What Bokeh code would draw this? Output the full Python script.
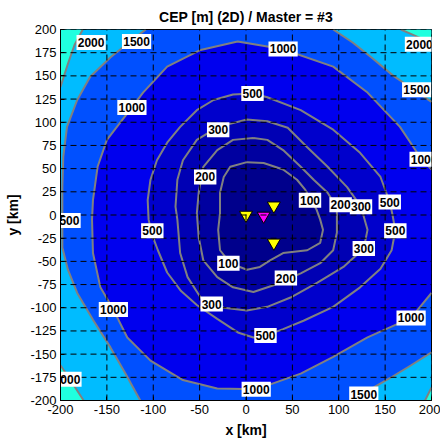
from bokeh.plotting import figure
from bokeh.models import Range1d, ColumnDataSource, CustomJSTickFormatter
from bokeh.core.properties import value
from bokeh.embed import file_html
from bokeh.resources import INLINE

TITLE = "CEP [m] (2D) / Master = #3"
XMIN, XMAX, YMIN, YMAX = -200, 200, -200, 200
X_TICKS = list(range(-200, 201, 50))
Y_TICKS = list(range(-200, 201, 25))

# contour level paths (km)
C100_X = [1, -17, -24, -28, -28, -30, -28, -17, 1, 15, 26, 40, 66, 80, 83, 80, 76, 70, 64, 55, 40, 19]
C100_Y = [57, 52, 41, 24, 2, -16, -38, -52, -59, -56, -49, -41, -38, -30, -16, -5, 6, 16, 27, 38, 49, 56]

C200_X = [8, -14, -31, -46, -51, -53, -51, -46, -31, -14, 8, 29, 59, 80, 94, 98, 98, 98, 88, 73, 59, 40, 23]
C200_Y = [83, 81, 70, 52, 24, 2, -24, -49, -67, -78, -83, -76, -63, -52, -38, -19, -5, 8, 24, 38, 52, 70, 81]

C300_X = [1, -30, -53, -68, -74, -76, -74, -71, -63, -49, -24, 1, 23, 48, 77, 105, 127, 131, 124, 109, 88, 66, 45, 23]
C300_Y = [103, 95, 81, 59, 38, 9, -5, -41, -67, -89, -100, -103, -99, -89, -73, -56, -36, -16, 9, 30, 52, 73, 94, 101]

C500_X = [7, -14, -35, -53, -71, -85, -96, -103, -106, -105, -101, -95, -85, -70, -53, -31, -8, 8, 21, 40, 62, 94, 123, 145, 157, 161, 158, 155, 145, 123, 94, 59, 23]
C500_Y = [131, 130, 124, 113, 95, 78, 59, 38, 16, -5, -22, -38, -62, -82, -97, -112, -127, -132, -130, -123, -114, -99, -78, -58, -38, -17, 0, 14, 41, 67, 92, 113, 127]

C1000_X = [200, 188, 166, 131, 94, 39, -9, -49, -85, -111, -123, -150, -160, -165, -166, -165, -157, -143, -128, -103, -68, -31, 11, 59, 94, 131, 178, 200]
C1000_Y = [49, 62, 95, 132, 160, 179, 187, 178, 160, 132, 116, 81, 52, 16, -5, -41, -78, -102, -132, -157, -178, -187, -188, -171, -153, -132, -111, -84]

C1500_L_X = [-108, -125, -146, -168, -182, -193, -197, -198, -198, -198, -192, -182, -165, -146, -130, -114]
C1500_L_Y = [200, 187, 170, 149, 124, 95, 63, 30, -5, -35, -59, -84, -113, -143, -171, -200]
C1500_TR_X = [94, 115, 135, 159, 184, 200]
C1500_TR_Y = [200, 186, 170, 150, 133, 122]
C1500_BR_X = [200, 178, 155, 127, 113]
C1500_BR_Y = [-148, -162, -176, -192, -200]

C2000_TL_X = [-176, -185, -192, -200]
C2000_TL_Y = [200, 183, 163, 138]
C2000_TR_X = [167, 185, 200]
C2000_TR_Y = [200, 192, 186]
C2000_BL_X = [-200, -188, -175]
C2000_BL_Y = [-162, -180, -200]
C2000_BR_X = [200, 193]
C2000_BR_Y = [-186, -200]

# contour labels
LBL_TEXT = ["2000", "1500", "1000", "2000", "500", "1500", "1000", "300", "1000", "200", "100",
            "200", "300", "500", "1500", "500", "500", "100", "300", "200", "1000", "300",
            "1000", "500", "2000", "1000", "1500"]
LBL_X = [-167, -118, 40, 187, 7, 184, -123, -30, 192, -44, 69, 102, 124, 155, -194, -101, 161,
         -19, 127, 43, -143, -37, 178, 21, -193, 11, 127]
LBL_Y = [186, 187, 179, 184, 131, 135, 116, 92, 60, 41, 16, 11, 9, 14, -6, -17, -17, -52, -36,
         -68, -102, -96, -111, -130, -177, -188, -193]

# stations
SLAVE_X = [0, 30, 30]
SLAVE_Y = [0, 10, -30]
MASTER_X = [19]
MASTER_Y = [-1]

COL_LT100 = "#00008C"
COL_100 = "#0000A0"
COL_200 = "#0000B4"
COL_300 = "#0000CC"
COL_500 = "#0000EE"
COL_1000 = "#0050FF"
COL_1500 = "#00BCFF"
COL_2000 = "#20FFDF"
LINE_COL = "#808080"

p = figure(width=440, height=443, x_range=Range1d(XMIN, XMAX), y_range=Range1d(YMIN, YMAX),
           output_backend="svg", toolbar_location=None,
           min_border_left=60, min_border_right=9, min_border_top=29, min_border_bottom=43)
p.background_fill_color = COL_1000
p.border_fill_color = "white"
p.outline_line_color = "black"
p.outline_line_width = 1
p.grid.visible = False

# filled regions
p.patch(C1500_L_X + [XMIN, XMIN], C1500_L_Y + [YMIN, YMAX], fill_color=COL_1500, line_color=None)
p.patch(C1500_TR_X + [XMAX], C1500_TR_Y + [YMAX], fill_color=COL_1500, line_color=None)
p.patch(C1500_BR_X + [XMAX], C1500_BR_Y + [YMIN], fill_color=COL_1500, line_color=None)
p.patch(C2000_TL_X + [XMIN], C2000_TL_Y + [YMAX], fill_color=COL_2000, line_color=None)
p.patch(C2000_TR_X + [XMAX], C2000_TR_Y + [YMAX], fill_color=COL_2000, line_color=None)
p.patch(C2000_BL_X + [XMIN], C2000_BL_Y + [YMIN], fill_color=COL_2000, line_color=None)
p.patch(C2000_BR_X + [XMAX], C2000_BR_Y + [YMIN], fill_color=COL_2000, line_color=None)
p.patch(C1000_X, C1000_Y, fill_color=COL_500, line_color=None)
p.patch(C500_X, C500_Y, fill_color=COL_300, line_color=None)
p.patch(C300_X, C300_Y, fill_color=COL_200, line_color=None)
p.patch(C200_X, C200_Y, fill_color=COL_100, line_color=None)
p.patch(C100_X, C100_Y, fill_color=COL_LT100, line_color=None)

def closed(a):
    return a + a[:1]

line_xs = [closed(C100_X), closed(C200_X), closed(C300_X), closed(C500_X), C1000_X,
           C1500_L_X, C1500_TR_X, C1500_BR_X, C2000_TL_X, C2000_TR_X, C2000_BL_X, C2000_BR_X]
line_ys = [closed(C100_Y), closed(C200_Y), closed(C300_Y), closed(C500_Y), C1000_Y,
           C1500_L_Y, C1500_TR_Y, C1500_BR_Y, C2000_TL_Y, C2000_TR_Y, C2000_BL_Y, C2000_BR_Y]
p.multi_line(line_xs, line_ys, line_color=LINE_COL, line_width=2)

# stations
p.scatter(SLAVE_X, SLAVE_Y, marker="inverted_triangle", size=13, fill_color="#FFFF00",
          line_color="black", line_width=1)
p.scatter(MASTER_X, MASTER_Y, marker="inverted_triangle", size=13, fill_color="#FF00FF",
          line_color="black", line_width=1)

# dashed grid drawn over the fill, at the tick positions
p.segment(x0=X_TICKS, y0=[YMIN] * len(X_TICKS), x1=X_TICKS, y1=[YMAX] * len(X_TICKS),
          line_color="black", line_dash="6 4", line_width=1)
p.segment(x0=[XMIN] * len(Y_TICKS), y0=Y_TICKS, x1=[XMAX] * len(Y_TICKS), y1=Y_TICKS,
          line_color="black", line_dash="6 4", line_width=1)

# contour labels (clipped by the frame like the reference)
src = ColumnDataSource(dict(x=LBL_X, y=LBL_Y, text=LBL_TEXT,
                            w=[6.8 * len(t) + 2 for t in LBL_TEXT]))
p.rect(x="x", y="y", width="w", height=15, width_units="screen", height_units="screen",
       source=src, fill_color="white", line_color=None)
p.text(x="x", y="y", text="text", source=src, text_align="center", text_baseline="middle",
       text_font=value("Liberation Sans"), text_font_style="bold", text_font_size="12px",
       text_color="black")

# axes
p.xaxis.ticker = X_TICKS
p.yaxis.ticker = Y_TICKS
fmt = CustomJSTickFormatter(code="return tick.toString();")
for ax in (p.xaxis, p.yaxis):
    ax.formatter = fmt
    ax.major_tick_in = 4
    ax.major_tick_out = 0
    ax.minor_tick_line_color = None
    ax.axis_line_color = "black"
    ax.major_tick_line_color = "black"
    ax.major_label_text_font = "Liberation Sans"
    ax.major_label_text_font_size = "13px"
    ax.major_label_text_color = "black"
    ax.axis_label_text_font = "Liberation Sans"
    ax.axis_label_text_font_size = "14px"
    ax.axis_label_text_font_style = "bold"
    ax.axis_label_text_color = "black"
    ax.major_label_standoff = 4
p.xaxis.axis_label = "x [km]"
p.yaxis.axis_label = "y [km]"
p.xaxis.axis_label_standoff = 5
p.yaxis.axis_label_standoff = 6

p.title.text = TITLE
p.title.align = "center"
p.title.text_font = "Liberation Sans"
p.title.text_font_size = "14px"
p.title.text_font_style = "bold"
p.title.text_color = "black"

open("out.html", "w").write(file_html(p, INLINE))
